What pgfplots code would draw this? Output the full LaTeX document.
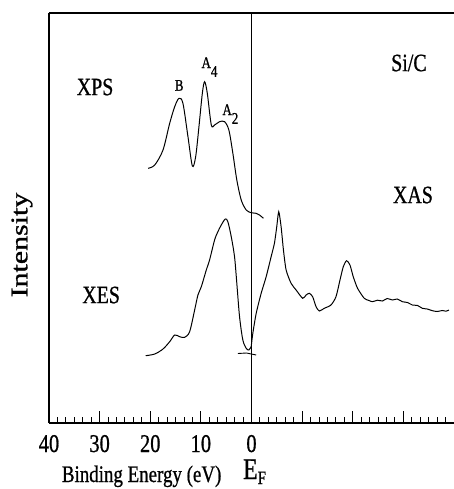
\documentclass[border=0pt]{standalone}
\usepackage{fontspec}
\setmainfont[AutoFakeBold=0.9]{Liberation Serif}
\usepackage{graphicx}
\usepackage{pgfplots}
\pgfplotsset{compat=1.18}
\usetikzlibrary{calc}
% the scan is stretched vertically, so stretch the text the same way
\newcommand{\st}[1]{\scalebox{1}[1.25]{#1}}

\begin{document}
\begin{tikzpicture}
\begin{axis}[
    name=ax,
    scale only axis,
    width=405bp, height=410bp,
    x dir=reverse,
    xmin=-40, xmax=40,
    ymin=0, ymax=410,
    axis lines=left,
    axis line style={-, line width=1.2pt},
    xtick={-40,-30,-20,-10,0,10,20,30,40},
    xticklabels={,,,,\st{0},\st{10},\st{20},\st{30},\st{40}},
    minor x tick num=5,
    ytick=\empty,
    tick align=inside,
    xtick pos=bottom,
    major tick length=12bp,
    minor tick length=6bp,
    every tick/.style={black, line width=0.9pt},
    xticklabel style={font=\fontsize{20.5}{24}\selectfont\bfseries, anchor=base, yshift=-29bp},
    clip=false,
]
% top frame line
\draw[line width=1.2pt] (rel axis cs:0,1) -- (rel axis cs:1,1);
% Fermi level
\addplot[black, line width=1.3pt] coordinates {(0,0) (0,410)};

% XPS
\addplot[black, line width=1pt, smooth, tension=0.5] coordinates {
(20.43,254.7) (19.11,258) (17.48,273) (16.16,299.7) (15.17,316.3)
(14.33,324.7) (13.54,319.7) (12.55,286.3) (11.68,257) (11.03,266.3)
(10.38,296.3) (9.71,329.7) (9.26,341.3) (8.73,329.7) (7.94,298)
(7.29,298) (6.31,301.3) (5.32,301.3) (4.47,293) (3.68,269.7)
(2.90,243) (2.03,223) (1.04,213) (0.06,210.3) (-0.93,209.7)
(-1.58,208) (-2.36,204.7)
};

% XES
\addplot[black, line width=1pt, smooth, tension=0.5] coordinates {
(20.89,67.3) (19.11,69) (17.48,74) (16.16,81.3) (15.17,88)
(14.19,86.3) (13.20,85.7) (12.22,91.3) (11.23,113) (10.58,128)
(9.91,136.3) (8.93,153) (8.28,163) (7.29,183) (6.64,191.3)
(5.97,198) (5.18,204) (4.67,201.3) (4.00,186.3) (3.35,166.3)
(2.90,139.7) (2.36,106.3) (1.71,83) (1.04,74.7) (0.53,73) (0.06,76.3)
};

% XAS
\addplot[black, line width=1pt, smooth, tension=0.4] coordinates {
(0.06,76.3) (-0.26,89.7) (-0.93,109.7) (-1.91,129.7) (-2.90,146.3)
(-3.88,166.3) (-4.53,179.7) (-4.99,196.3) (-5.38,211.3) (-5.85,196.3)
(-6.31,173) (-6.84,153) (-7.82,139.7) (-8.81,133) (-10.11,124.7)
(-10.78,128) (-11.43,129.7) (-12.08,126.3) (-12.75,116.3) (-13.40,112)
(-14.38,114.7) (-15.70,118) (-16.69,126.3) (-17.48,143) (-18.13,156.3)
(-18.78,162.3) (-19.45,158) (-20.10,146.3) (-20.95,134.7) (-22.27,124.7)
(-23.20,122.5) (-23.90,121.3) (-24.90,122.8) (-25.87,122) (-26.80,124.5)
(-27.84,123) (-28.80,124) (-29.81,121.3) (-30.80,120.5) (-31.78,118)
(-32.80,117.5) (-33.75,114.7) (-34.70,114) (-35.72,112.3) (-36.70,111.5)
(-37.69,112.5) (-38.40,111.8) (-39.01,113)
};

% short crossing stroke at the XES minimum
\addplot[black, line width=0.9pt] coordinates {(2.70,69.5) (1.0,70) (-0.93,68)};

% labels
\node[font=\fontsize{20}{24}\selectfont\bfseries] at (axis cs:30.9,336) {\st{XPS}};
\node[font=\fontsize{20}{24}\selectfont\bfseries] at (axis cs:29.7,128) {\st{XES}};
\node[font=\fontsize{20}{24}\selectfont\bfseries] at (axis cs:-31.9,228) {\st{XAS}};
\node[font=\fontsize{20}{24}\selectfont\bfseries] at (axis cs:-31.1,360) {\st{Si/C}};
\node[font=\fontsize{13}{15}\selectfont\bfseries, anchor=base] at (axis cs:14.29,332.3) {\st{B}};
\node[font=\fontsize{13}{15}\selectfont\bfseries, anchor=base west, inner sep=0pt] at (axis cs:9.9,355) {\st{A\raisebox{-7bp}{4}}};
\node[font=\fontsize{13}{15}\selectfont\bfseries, anchor=base west, inner sep=0pt] at (axis cs:5.77,308) {\st{A\raisebox{-7bp}{2}}};

\node[font=\fontsize{19}{22}\selectfont\bfseries, anchor=base] at (axis cs:21.7,-59) {\st{Binding Energy (eV)}};
\node[font=\fontsize{24}{28}\selectfont\bfseries, anchor=base] at (axis cs:-0.6,-56) {\st{E\raisebox{-4bp}{\fontsize{15}{17}\selectfont F}}};
\node[font=\fontsize{24}{28}\selectfont\bfseries, rotate=90] at (axis description cs:-0.0667,0.434) {\scalebox{1.25}[1]{Intensity}};
\end{axis}
\pgfresetboundingbox
\path[use as bounding box] ($(ax.south west)+(-49bp,-66bp)$) rectangle ($(ax.north east)+(0bp,13bp)$);
\end{tikzpicture}
\end{document}
